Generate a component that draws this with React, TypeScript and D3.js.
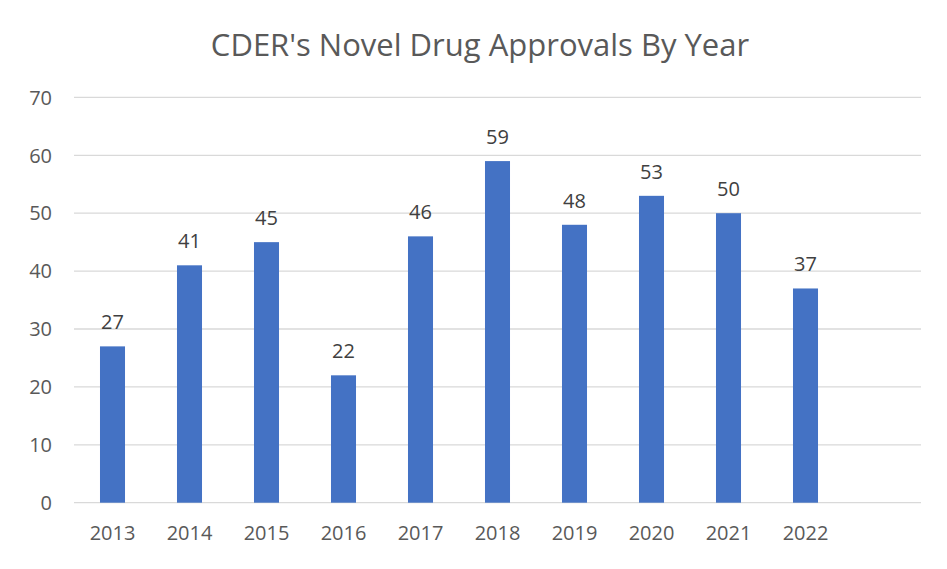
import { useEffect } from "react";
import * as d3 from "d3";

const W = 947, H = 569;
const PLOT = { left: 74, right: 921, top: 97.4, bottom: 502.7 };
const FONT = "'Open Sans', sans-serif";

const years = ["2013", "2014", "2015", "2016", "2017", "2018", "2019", "2020", "2021", "2022"];
const approvals = [27, 41, 45, 22, 46, 59, 48, 53, 50, 37];
const yTickValues = [0, 10, 20, 30, 40, 50, 60, 70];

// Excel leaves one empty slot after the last year
const slots = [...years, ""];

export default function App() {
  useEffect(() => {
    document.body.style.margin = "0";
  }, []);

  const x = d3
    .scaleBand<string>()
    .domain(slots)
    .range([PLOT.left, PLOT.right])
    .paddingInner(0.675)
    .paddingOuter(0.3375);
  const y = d3.scaleLinear([0, 70], [PLOT.bottom, PLOT.top]);

  return (
    <svg width={W} height={H} style={{ display: "block", background: "#fff" }}>
      {/* Title */}
      <text x={480} y={56} textAnchor="middle" fontSize={31} fill="#595959" fontFamily={FONT}>
        CDER's Novel Drug Approvals By Year
      </text>

      {/* Gridlines + y labels */}
      {yTickValues.map((t) => (
        <g key={t}>
          <line x1={PLOT.left} x2={PLOT.right} y1={y(t)} y2={y(t)} stroke="#D9D9D9" strokeWidth={1.3} />
          <text x={52} y={y(t)} dy="0.36em" textAnchor="end" fontSize={20} fill="#595959" fontFamily={FONT}>
            {t}
          </text>
        </g>
      ))}

      {/* Bars */}
      {years.map((yr, i) => (
        <g key={yr}>
          <rect
            x={x(yr)!}
            y={y(approvals[i])}
            width={x.bandwidth()}
            height={y(0) - y(approvals[i])}
            fill="#4472C4"
          />
          <text
            x={x(yr)! + x.bandwidth() / 2}
            y={y(approvals[i]) - 17}
            textAnchor="middle"
            fontSize={20}
            fill="#404040"
            fontFamily={FONT}
          >
            {approvals[i]}
          </text>
          <text
            x={x(yr)! + x.bandwidth() / 2}
            y={540}
            textAnchor="middle"
            fontSize={20}
            fill="#595959"
            fontFamily={FONT}
          >
            {yr}
          </text>
        </g>
      ))}
    </svg>
  );
}
